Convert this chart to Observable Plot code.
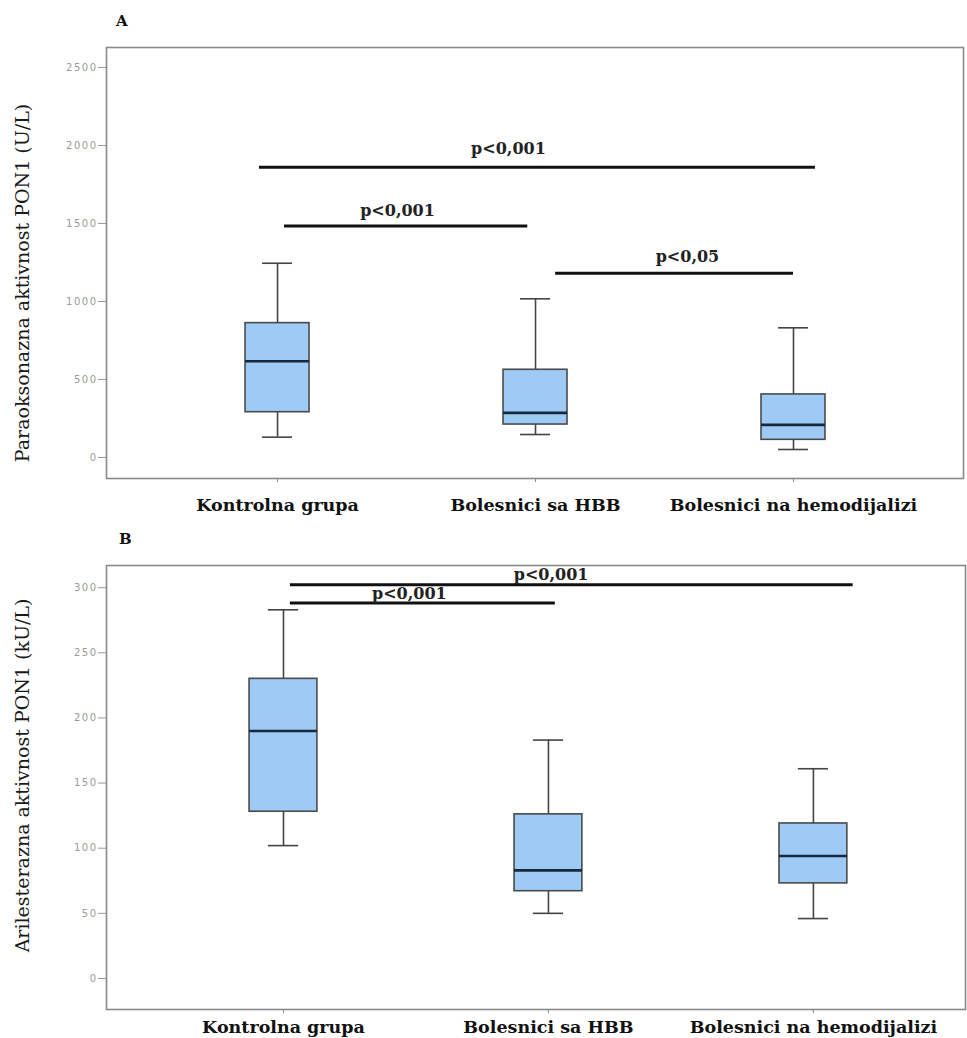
<!DOCTYPE html>
<html>
<head>
<meta charset="utf-8">
<script src="https://cdn.jsdelivr.net/npm/d3@7"></script>
<script src="https://cdn.jsdelivr.net/npm/@observablehq/plot@0.6"></script>
<style>
  body { margin: 0; background: #fff; width: 967px; height: 1038px; position: relative; overflow: hidden; }
  .panel { position: absolute; left: 0; z-index: 1; }
  .letter { position: absolute; z-index: 2; font-family: "DejaVu Serif", serif; font-weight: bold; font-size: 15px; color: #111; }
  [aria-label="y-axis tick label"] text { letter-spacing: 1.5px; }
</style>
</head>
<body>
<div class="panel" id="panelA" style="top:0px;"></div>
<div class="panel" id="panelB" style="top:528px;"></div>
<div class="letter" style="left:116px;top:12px;">A</div>
<div class="letter" style="left:119px;top:530px;">B</div>
<script>
// ---------- data ----------
const groups = ["Kontrolna grupa", "Bolesnici sa HBB", "Bolesnici na hemodijalizi"];
const groupPos = [1, 2, 3];

// Panel A: Paraoksonazna aktivnost PON1 (U/L)
const aLabel = "Paraoksonazna aktivnost PON1 (U/L)";
const aTicks = [0, 500, 1000, 1500, 2000, 2500];
const aLow = [130, 147, 51];
const aQ1 = [290, 211, 113];
const aMedian = [617, 286, 209];
const aQ3 = [861, 562, 404];
const aHigh = [1245, 1017, 831];
const aSigText = ["p<0,001", "p<0,001", "p<0,05"];
const aSigFrom = [0.93, 1.027, 2.078];
const aSigTo = [3.085, 1.97, 3.0];
const aSigLevel = [1861, 1483, 1181];
const aSigTextX = [1.895, 1.465, 2.589];
const aSigTextY = [1981, 1583, 1288];

// Panel B: Arilesterazna aktivnost PON1 (kU/L)
const bLabel = "Arilesterazna aktivnost PON1 (kU/L)";
const bTicks = [0, 50, 100, 150, 200, 250, 300];
const bLow = [102, 50, 46];
const bQ1 = [128, 67, 73];
const bMedian = [190, 83, 94];
const bQ3 = [230, 126, 119];
const bHigh = [283, 183, 161];
const bSigText = ["p<0,001", "p<0,001"];
const bSigFrom = [1.026, 1.026];
const bSigTo = [3.15, 2.026];
const bSigLevel = [302.3, 288.2];
const bSigTextX = [2.01, 1.475];
const bSigTextY = [310, 295];

// ---------- drawing ----------
function panel({width, height, mt, mb, ml, mr, xDomain, yDomain, ticks, label, labelDy, catDy,
                low, q1, med, q3, high, sigText, sigFrom, sigTo, sigLevel, sigTX, sigTY, boxHalf, capHalf}) {
  const idx = groupPos.map((_, i) => i);
  const sig = sigText.map((_, i) => i);
  const serif = "DejaVu Serif";
  return Plot.plot({
    width, height,
    marginTop: mt, marginBottom: mb, marginLeft: ml, marginRight: mr,
    x: {domain: xDomain, axis: null},
    y: {domain: yDomain, axis: null},
    style: {background: "#fff"},
    marks: [
      Plot.axisY({ticks, tickSize: 8, tickPadding: 1, tickFormat: d => String(d), fontSize: 10, fontFamily: "DejaVu Sans", color: "#9a9a9a", label: null}),
      Plot.axisX({ticks: groupPos, tickSize: 4, tickFormat: () => "", color: "#888", label: null}),
      Plot.text([label], {frameAnchor: "left", rotate: -90, dx: -84, dy: labelDy, fontFamily: serif, fontSize: 19, fill: "#1a1a1a", textAnchor: "middle"}),
      Plot.text(idx, {x: i => groupPos[i], text: i => groups[i], frameAnchor: "bottom", dy: catDy, lineAnchor: "middle",
                      fontFamily: serif, fontWeight: "bold", fontSize: 17.5, fill: "#111"}),
      // whiskers
      Plot.ruleX(idx, {x: i => groupPos[i], y1: i => q3[i], y2: i => high[i], stroke: "#444", strokeWidth: 1.6}),
      Plot.ruleX(idx, {x: i => groupPos[i], y1: i => low[i], y2: i => q1[i], stroke: "#444", strokeWidth: 1.6}),
      Plot.ruleY(idx, {y: i => high[i], x1: i => groupPos[i] - capHalf, x2: i => groupPos[i] + capHalf, stroke: "#444", strokeWidth: 1.6}),
      Plot.ruleY(idx, {y: i => low[i], x1: i => groupPos[i] - capHalf, x2: i => groupPos[i] + capHalf, stroke: "#444", strokeWidth: 1.6}),
      // boxes
      Plot.rect(idx, {x1: i => groupPos[i] - boxHalf, x2: i => groupPos[i] + boxHalf, y1: i => q1[i], y2: i => q3[i],
                      fill: "#9dcbf6", stroke: "#4a4a4a", strokeWidth: 1.6}),
      Plot.ruleY(idx, {y: i => med[i], x1: i => groupPos[i] - boxHalf, x2: i => groupPos[i] + boxHalf, stroke: "#16283a", strokeWidth: 2.6}),
      // significance bars
      Plot.ruleY(sig, {y: i => sigLevel[i], x1: i => sigFrom[i], x2: i => sigTo[i], stroke: "#111", strokeWidth: 3}),
      Plot.text(sig, {x: i => sigTX[i], y: i => sigTY[i], text: i => sigText[i], lineAnchor: "middle",
                      fontFamily: serif, fontWeight: "bold", fontSize: 16, fill: "#222"}),
      Plot.frame({stroke: "#8a8a8a", strokeWidth: 1.6})
    ]
  });
}

document.getElementById("panelA").append(panel({
  width: 967, height: 525, mt: 47, mb: 47, ml: 106, mr: 4,
  xDomain: [0.337, 3.659], yDomain: [-135, 2628], ticks: aTicks, label: aLabel, labelDy: 20, catDy: 27,
  low: aLow, q1: aQ1, med: aMedian, q3: aQ3, high: aHigh,
  sigText: aSigText, sigFrom: aSigFrom, sigTo: aSigTo, sigLevel: aSigLevel, sigTX: aSigTextX, sigTY: aSigTextY,
  boxHalf: 0.124, capHalf: 0.058
}));

document.getElementById("panelB").append(panel({
  width: 967, height: 510, mt: 37, mb: 29, ml: 106, mr: 2,
  xDomain: [0.332, 3.574], yDomain: [-23.8, 317], ticks: bTicks, label: bLabel, labelDy: -12, catDy: 18,
  low: bLow, q1: bQ1, med: bMedian, q3: bQ3, high: bHigh,
  sigText: bSigText, sigFrom: bSigFrom, sigTo: bSigTo, sigLevel: bSigLevel, sigTX: bSigTextX, sigTY: bSigTextY,
  boxHalf: 0.128, capHalf: 0.057
}));
</script>
</body>
</html>
